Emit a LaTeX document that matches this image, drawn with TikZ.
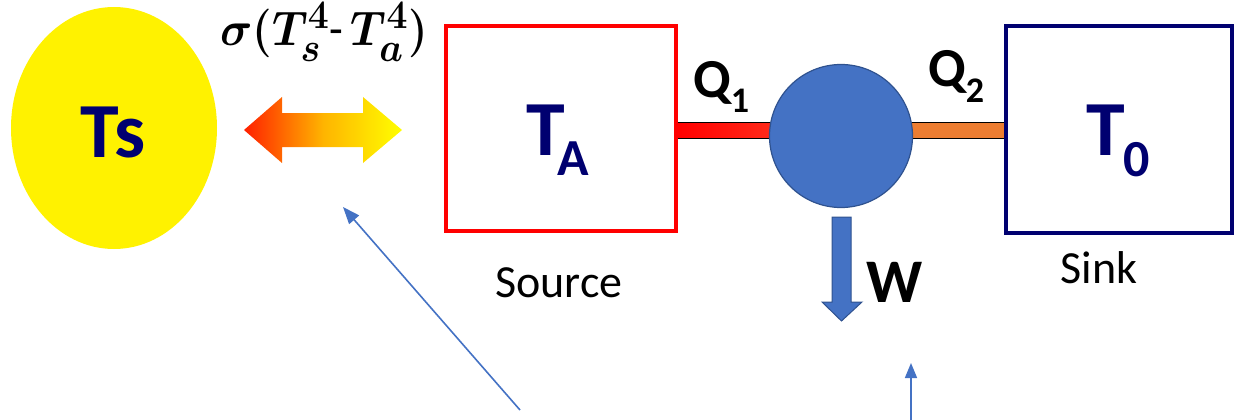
\documentclass[tikz,border=0pt]{standalone}
\usepackage{fontspec}
\setmainfont{Carlito}
\usepackage{graphicx}
\usetikzlibrary{shapes.geometric,arrows.meta}
\definecolor{navyT}{RGB}{0,0,112}
\definecolor{engblue}{RGB}{68,114,196}
\definecolor{engdark}{RGB}{47,82,143}
\definecolor{barorange}{RGB}{237,125,49}
\definecolor{hotred}{RGB}{255,32,0}
\definecolor{midorange}{RGB}{255,180,0}
\newcommand{\sigmaformula}{\fontsize{24.88}{26}\selectfont\boldmath$\sigma(T_s^4$-\,$T_a^4)$}
\begin{document}
\begin{tikzpicture}[x=1pt,y=-1pt,
  reservoir/.style={draw,line width=4pt,minimum width=#1,inner sep=0pt},
  bigT/.style={font=\bfseries\fontsize{78}{78}\selectfont,text=navyT,inner sep=0pt,anchor=base west},
  qlab/.style={font=\bfseries\fontsize{55}{55}\selectfont,inner sep=0pt,anchor=base west},
  caption/.style={font=\fontsize{46}{46}\selectfont,inner sep=0pt,anchor=base},
  pointer/.style={draw=engblue,line width=1.6pt,-{Triangle[length=17pt,width=13pt]}},
  heatbar/.style={draw=black,line width=0.6pt}
]
\useasboundingbox (0,0) rectangle (1235,420);
% Sun
\node[ellipse,fill=yellow,minimum width=206pt,minimum height=242pt,inner sep=0pt] (sun) at (114,128) {};
\node[font=\bfseries\fontsize{78}{78}\selectfont,text=navyT,inner sep=0pt,anchor=base] (ts) at (113,157) {Ts};
% formula
\node[inner sep=0pt,anchor=base west] (sigma) at (220,46) {\scalebox{1.8}[1.95]{\sigmaformula}};
% double arrow with gradient
\shade[left color=hotred,right color=yellow,middle color=midorange]
  (244,130) -- (282,97) -- (282,113) -- (363,113) -- (363,97) -- (402,130)
  -- (363,163) -- (363,147) -- (282,147) -- (282,163) -- cycle;
% bars
\shade[left color=red,right color={rgb,255:red,255;green,50;blue,30},heatbar] (676,122) rectangle (790,138);
\shade[left color=barorange,right color=barorange,heatbar] (890,122) rectangle (1006,138);
% reservoirs
\node[reservoir=230pt,minimum height=205pt,draw=red] (source) at (561,128.5) {};
\node[reservoir=226pt,minimum height=207pt,draw=navyT] (sink) at (1119,129.5) {};
% engine
\node[circle,fill=engblue,draw=engdark,line width=1.2pt,minimum size=143pt,inner sep=0pt] (engine) at (841,136) {};
% work arrow
\filldraw[fill=engblue,draw=engdark,line width=1pt]
  (832,217) -- (851,217) -- (851,302) -- (862,302) -- (841.5,321) -- (822,302) -- (832,302) -- cycle;
% texts
\node[bigT] (ta) at (526,155) {T\kern-7pt\raisebox{-20pt}{\fontsize{52}{52}\selectfont A}};
\node[bigT] (t0) at (1086,155) {T\kern-1pt\raisebox{-21pt}{\fontsize{52}{52}\selectfont 0}};
\node[qlab] (q1) at (693,97) {Q\raisebox{-15pt}{\fontsize{36}{36}\selectfont 1}};
\node[qlab] (q2) at (928,87) {Q\raisebox{-16pt}{\fontsize{36}{36}\selectfont 2}};
\node[font=\bfseries\fontsize{62}{62}\selectfont,inner sep=0pt,anchor=base west] (w) at (866,302) {W};
\node[caption] (srclab) at (559,297) {Source};
\node[caption] (sinklab) at (1099,283) {Sink};
% pointers
\coordinate (p1s) at (520,410);
\coordinate (p1e) at (343,207);
\coordinate (p2s) at (911,421);
\coordinate (p2e) at (911,363);
\draw[pointer] (p1s) -- (p1e);
\draw[pointer,-{Triangle[length=15pt,width=12pt]}] (p2s) -- (p2e);
\end{tikzpicture}
\end{document}
